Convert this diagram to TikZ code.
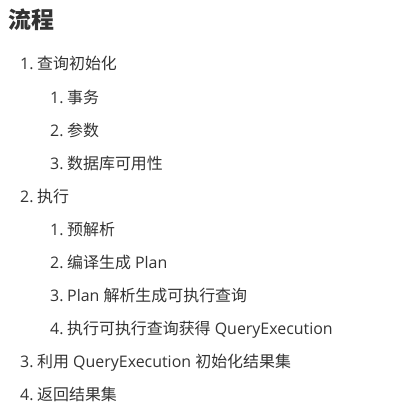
\documentclass[tikz,border=0pt]{standalone}
\usepackage{fontspec}
\setmainfont{Open Sans}
\newfontfamily\cjk{Noto Sans CJK SC}
\definecolor{txt}{HTML}{333333}
\begin{document}
\begin{tikzpicture}[x=1bp,y=-1bp,
  item/.style={anchor=base west, inner sep=0pt, text=txt, font=\fontsize{16}{19}\selectfont},
  ttl/.style={anchor=base west, inner sep=0pt, text=txt, font=\fontsize{23}{28}\selectfont\cjk\bfseries}]
\useasboundingbox (0,0) rectangle (412,408);
\node[ttl] (title) at (8,28) {流程};
% top-level
\node[item] (n1) at (20,69) {1.};
\node[item] (t1) at (37,69) {\cjk 查询初始化};
\node[item] (n11) at (50,103) {1.};
\node[item] (t11) at (67,103) {\cjk 事务};
\node[item] (n12) at (50,136) {2.};
\node[item] (t12) at (67,136) {\cjk 参数};
\node[item] (n13) at (50,169) {3.};
\node[item] (t13) at (67,169) {\cjk 数据库可用性};
\node[item] (n2) at (20,202) {2.};
\node[item] (t2) at (37,202) {\cjk 执行};
\node[item] (n21) at (50,235) {1.};
\node[item] (t21) at (67,235) {\cjk 预解析};
\node[item] (n22) at (50,268) {2.};
\node[item] (t22) at (67,268) {{\cjk 编译生成} Plan};
\node[item] (n23) at (50,301) {3.};
\node[item] (t23) at (67,301) {Plan {\cjk 解析生成可执行查询}};
\node[item] (n24) at (50,334) {4.};
\node[item] (t24) at (67,334) {{\cjk 执行可执行查询获得} QueryExecution};
\node[item] (n3) at (20,367) {3.};
\node[item] (t3) at (37,367) {{\cjk 利用} QueryExecution {\cjk 初始化结果集}};
\node[item] (n4) at (20,400) {4.};
\node[item] (t4) at (37,400) {\cjk 返回结果集};
\end{tikzpicture}
\end{document}
